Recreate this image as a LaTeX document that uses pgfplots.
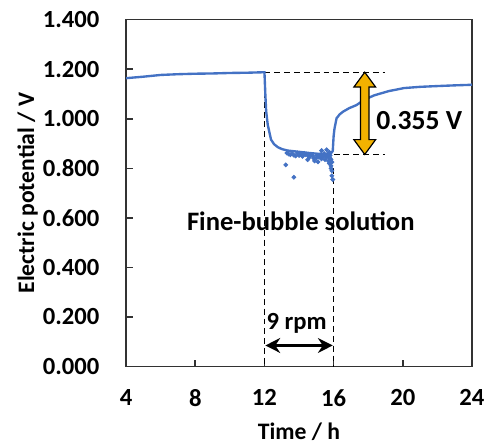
\documentclass[border=0pt]{standalone}
\usepackage{fontspec}
\setmainfont{Carlito}
\usepackage{pgfplots}
\pgfplotsset{compat=1.18}
\usetikzlibrary{arrows.meta}

\definecolor{lineblue}{RGB}{68,114,196}
\definecolor{arroworange}{RGB}{242,178,0}
\definecolor{axisgray}{RGB}{50,50,50}

\pgfplotstableread{
x y
4 1.164
5 1.170
6 1.177
7 1.180
8 1.182
9 1.183
10 1.185
11 1.186
12 1.188
12.05 1.100
12.1 1.030
12.19 0.976
12.38 0.916
12.55 0.898
12.76 0.886
13.0 0.878
13.33 0.872
13.7 0.869
14.1 0.866
14.6 0.862
15.04 0.859
15.5 0.857
15.8 0.856
15.95 0.870
16.0 0.930
16.05 0.960
16.17 1.002
16.35 1.018
16.55 1.029
16.9 1.043
17.31 1.055
17.8 1.078
18.36 1.095
19.2 1.112
20.07 1.124
21 1.129
21.95 1.132
23 1.135
23.87 1.137
24 1.138
}\potential

\pgfplotstableread{
x y
13.23 0.814
13.7 0.764
13.3 0.862
13.4 0.858
13.5 0.855
13.6 0.860
13.7 0.853
13.8 0.850
13.9 0.862
14.0 0.852
14.1 0.857
14.2 0.848
14.3 0.860
14.4 0.855
14.5 0.835
14.55 0.850
14.6 0.845
14.7 0.856
14.8 0.850
14.85 0.840
14.9 0.830
15.0 0.842
15.05 0.853
15.1 0.826
15.15 0.845
15.2 0.848
15.25 0.855
15.3 0.838
15.3 0.872
15.35 0.845
15.4 0.850
15.45 0.860
15.5 0.835
15.55 0.850
15.6 0.845
15.6 0.875
15.65 0.858
15.7 0.830
15.7 0.850
15.75 0.820
15.75 0.865
15.8 0.840
15.8 0.852
15.85 0.810
15.85 0.800
15.85 0.835
15.9 0.790
15.9 0.770
15.9 0.825
15.95 0.755
}\noise

\begin{document}
\begin{tikzpicture}
\begin{axis}[
  width=175.5pt, height=176pt, scale only axis,
  xmin=4, xmax=24, ymin=0, ymax=1.4,
  xtick={4,8,...,24}, ytick={0,0.2,...,1.4},
  xtick pos=bottom, ytick pos=left,
  tick align=inside, major tick length=3.5pt,
  axis line style={axisgray, line width=0.8pt},
  every tick/.style={axisgray, line width=0.8pt},
  /pgf/number format/assume math mode=true,
  yticklabel style={/pgf/number format/fixed, /pgf/number format/fixed zerofill, /pgf/number format/precision=3},
  yticklabel style={font=\fontsize{12.5}{14}\selectfont\bfseries, xshift=-10pt},
  xticklabel style={font=\fontsize{12.5}{14}\selectfont\bfseries, yshift=-8pt},
  xlabel={Time / h}, ylabel={Electric potential / V},
  xlabel style={font=\fontsize{12}{14}\selectfont\bfseries, at={(axis description cs:0.5,-0.1875)}, anchor=center},
  ylabel style={font=\fontsize{12}{14}\selectfont\bfseries, at={(axis description cs:-0.285,0.5)}, anchor=center},
  clip=false,
]
% dashed guide lines
\draw[black, densely dashed, line width=0.5pt] (axis cs:12,1.188) -- (axis cs:19,1.188);
\draw[black, densely dashed, line width=0.5pt] (axis cs:16,0.856) -- (axis cs:19,0.856);
\draw[black, densely dashed, line width=0.5pt] (axis cs:12,1.188) -- (axis cs:12,0);
\draw[black, densely dashed, line width=0.5pt] (axis cs:16,0.80) -- (axis cs:16,0);

\addplot[only marks, mark=*, mark size=1pt, lineblue] table[x=x, y=y] {\noise};
\addplot[lineblue, line width=1.2pt] table[x=x, y=y] {\potential};

% orange double arrow
\draw[black, line width=0.6pt, fill=arroworange]
  (axis cs:17.8,1.188) -- (axis cs:18.43,1.128) -- (axis cs:18.05,1.128)
  -- (axis cs:18.05,0.916) -- (axis cs:18.43,0.916) -- (axis cs:17.8,0.856)
  -- (axis cs:17.17,0.916) -- (axis cs:17.55,0.916) -- (axis cs:17.55,1.128)
  -- (axis cs:17.17,1.128) -- cycle;

% 9 rpm arrow
\draw[{Stealth[length=7.5pt,width=7.5pt]}-{Stealth[length=7.5pt,width=7.5pt]}, line width=1.4pt]
  (axis cs:12.05,0.085) -- (axis cs:15.95,0.085);

\node[font=\fontsize{13.5}{16}\selectfont\bfseries] at (axis cs:14.1,0.585) {Fine-bubble solution};
\node[font=\fontsize{14}{16}\selectfont\bfseries] at (axis cs:20.95,0.994) {0.355 V};
\node[font=\fontsize{12.5}{15}\selectfont\bfseries] at (axis cs:13.86,0.175) {9 rpm};
\end{axis}
\path (-64pt,-38pt) rectangle (181.5pt,186pt);
\end{tikzpicture}
\end{document}
